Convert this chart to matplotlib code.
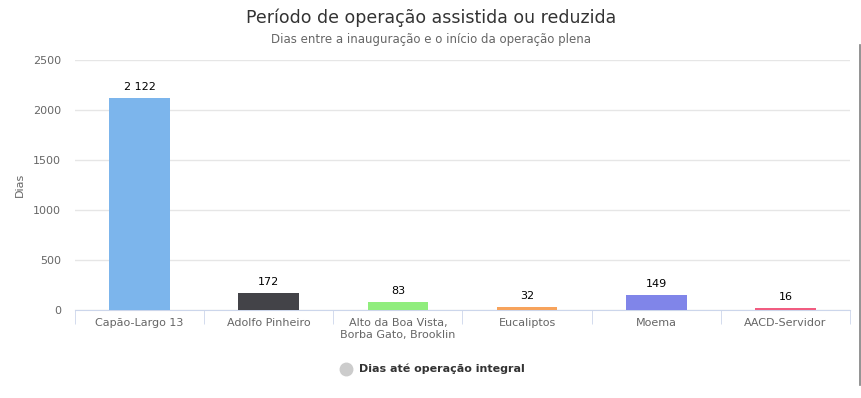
import matplotlib.pyplot as plt
import numpy as np

# dados
estacoes = ['Capão-Largo 13', 'Adolfo Pinheiro', 'Alto da Boa Vista,\nBorba Gato, Brooklin',
            'Eucaliptos', 'Moema', 'AACD-Servidor']
dias = [2122, 172, 83, 32, 149, 16]
rotulos = ['2 122', '172', '83', '32', '149', '16']
cores = ['#7cb5ec', '#434348', '#90ed7d', '#f7a35c', '#8085e9', '#f15c80']

plt.rcParams['font.family'] = ['DejaVu Sans']

fig = plt.figure(figsize=(8.62, 3.98), dpi=100)
ax = fig.add_axes([75 / 862, 1 - 310 / 398, 775 / 862, 250 / 398])

x = np.arange(len(estacoes))
ax.bar(x, dias, width=0.47, color=cores, zorder=3)
for xi, v, r in zip(x, dias, rotulos):
    ax.text(xi, v + 60, r, ha='center', va='bottom', fontsize=8, color='black')

ax.set_xlim(-0.5, len(estacoes) - 0.5)
ax.set_ylim(0, 2500)
ax.set_yticks(range(0, 2501, 500))
ax.yaxis.grid(True, color='#e6e6e6', linewidth=1)
ax.set_axisbelow(True)
for s in ['top', 'right', 'left']:
    ax.spines[s].set_visible(False)
ax.spines['bottom'].set_color('#ccd6eb')
ax.tick_params(axis='y', length=0, labelsize=8, labelcolor='#666666', pad=10)
ax.set_xticks(x)
ax.set_xticklabels(estacoes, fontsize=8, color='#666666')
ax.tick_params(axis='x', length=0, pad=6)
ax.set_xticks(np.arange(-0.5, len(estacoes)), minor=True)
ax.tick_params(axis='x', which='minor', length=10, color='#ccd6eb')
ax.set_ylabel('Dias', fontsize=8, color='#666666')
ax.yaxis.set_label_coords(-50 / 775, 0.5)

fig.text(0.5, 1 - 18 / 398, 'Período de operação assistida ou reduzida',
         ha='center', va='center', fontsize=12.5, color='#333333')
fig.text(0.5, 1 - 40 / 398, 'Dias entre a inauguração e o início da operação plena',
         ha='center', va='center', fontsize=8.5, color='#666666')

# legenda
fig.add_artist(plt.Line2D([346 / 862], [1 - 369 / 398], transform=fig.transFigure,
                          marker='o', markersize=9, color='#cccccc', linestyle='none'))
fig.text(359 / 862, 1 - 369 / 398, 'Dias até operação integral', ha='left', va='center',
         fontsize=8, fontweight='bold', color='#333333')

# borda lateral
fig.add_artist(plt.Line2D([860.5 / 862, 860.5 / 862], [1 - 45 / 398, 1 - 385 / 398],
                          transform=fig.transFigure, color='#808080', linewidth=1.2))

fig.savefig('out.png', dpi=100)
